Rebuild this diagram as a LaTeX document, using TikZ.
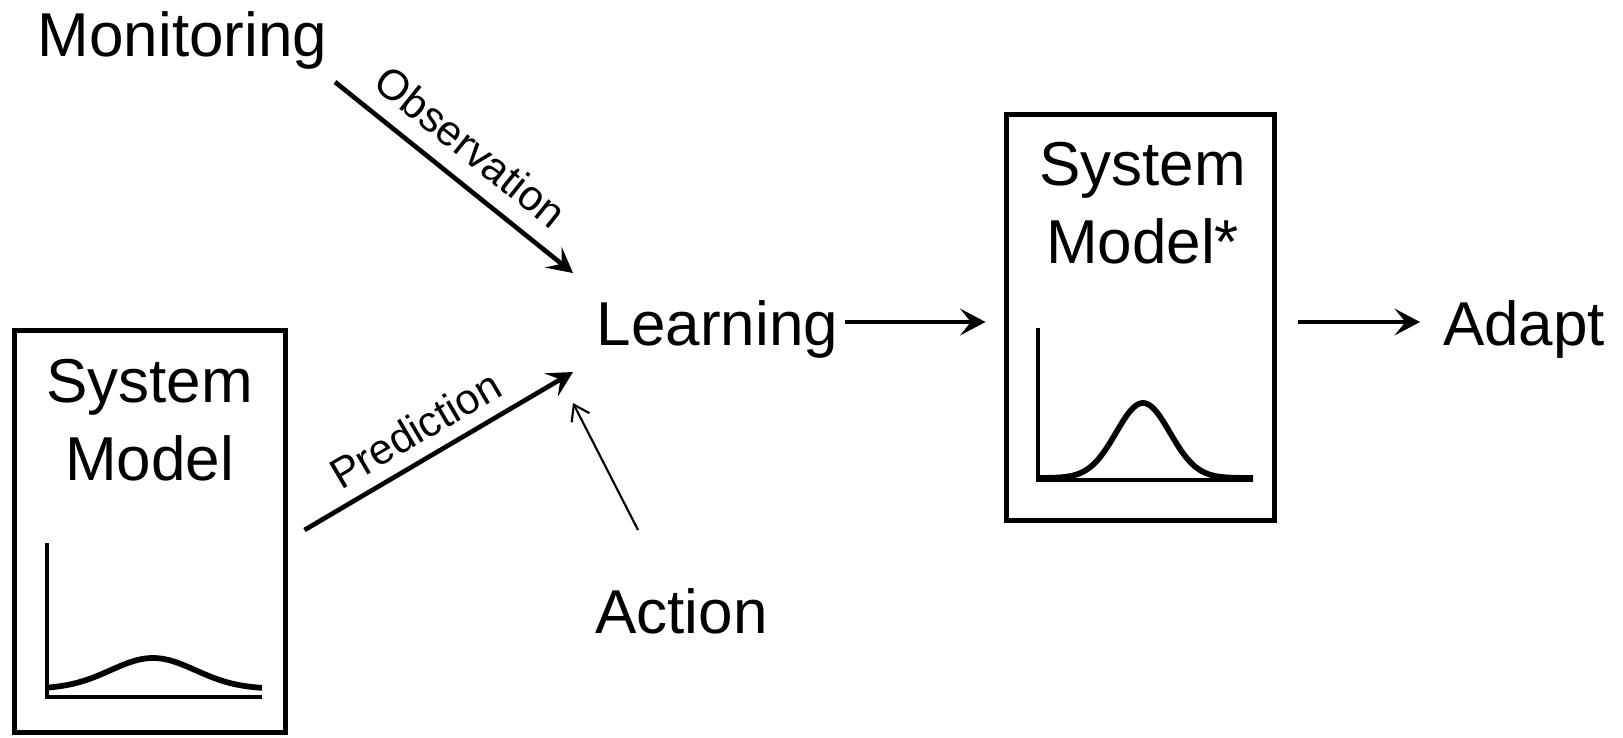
\documentclass[tikz,border=0pt]{standalone}
\usepackage{fontspec}
\setmainfont{Liberation Sans}
\usetikzlibrary{arrows.meta,calc}
\begin{document}
\begin{tikzpicture}[x=0.75pt,y=-0.75pt,
  txt/.style={inner sep=0pt, font=\fontsize{46.5}{58.5}\selectfont},
  lbl/.style={inner sep=0pt, font=\fontsize{32}{38}\selectfont},
  box/.style={draw, line width=3.75pt, inner sep=0pt},
  arr/.style={line width=3.5pt, -{Stealth[length=19pt,width=20pt,inset=8pt]}},
  thinarr/.style={line width=1.6pt, -{Straight Barb[length=11pt,width=15pt]}},
  axisline/.style={line width=3pt},
  curveline/.style={line width=4.3pt, line join=round}]
\useasboundingbox (0,0) rectangle (1623,738);

% boxes
\node[box, minimum width=203.25pt, minimum height=301.5pt] (sm1) at (150,531.5) {};
\node[box, minimum width=200.6pt, minimum height=304.5pt] (sm2) at (1140.25,317.5) {};
\node[txt, align=center, anchor=north] (t1) at (149.5,359) {System\\Model};
\node[txt, align=center, anchor=north] (t2) at (1142.5,142) {System\\Model*};

% text nodes
\node[txt, anchor=base] (mon) at (182.5,57) {Monitoring};
\node[txt, anchor=base] (learn) at (717.5,345) {Learning};
\node[txt, anchor=base] (adapt) at (1524,345) {Adapt};
\node[txt, anchor=base] (act) at (681.5,633) {Action};

% plots
\draw[axisline] (47,543) -- (47,697) -- (262,697);
\draw[curveline] plot[domain=47:262, samples=80, smooth]
  (\x,{689 - 31*exp(-1*((\x-153)/60)*((\x-153)/60))});
\draw[axisline] (1038,328) -- (1038,480) -- (1253,480);
\draw[curveline] plot[domain=1038:1253, samples=100, smooth]
  (\x,{478 - 75*exp(-1*((\x-1143)/38)*((\x-1143)/38))});

% connectors
\draw[arr] ($(mon.base)+(152.5,25)$) -- node[lbl, sloped, above=12.5pt, pos=0.48] {Observation} ($(learn.base)+(-144.5,-72)$);
\draw[arr] ($(sm1.east)+(16.5,-1.5)$) -- node[lbl, sloped, above=9.5pt, pos=0.47] {Prediction} ($(learn.base)+(-144.5,27)$);
\draw[thinarr] ($(act.base)+(-43.5,-103)$) -- ($(learn.base)+(-144.5,58)$);
\draw[arr] ($(learn.base)+(127.5,-23)$) -- ($(sm2.west)+(-18.5,4.5)$);
\draw[arr] ($(sm2.east)+(21,4.5)$) -- ($(adapt.base)+(-104,-23)$);
\end{tikzpicture}
\end{document}
